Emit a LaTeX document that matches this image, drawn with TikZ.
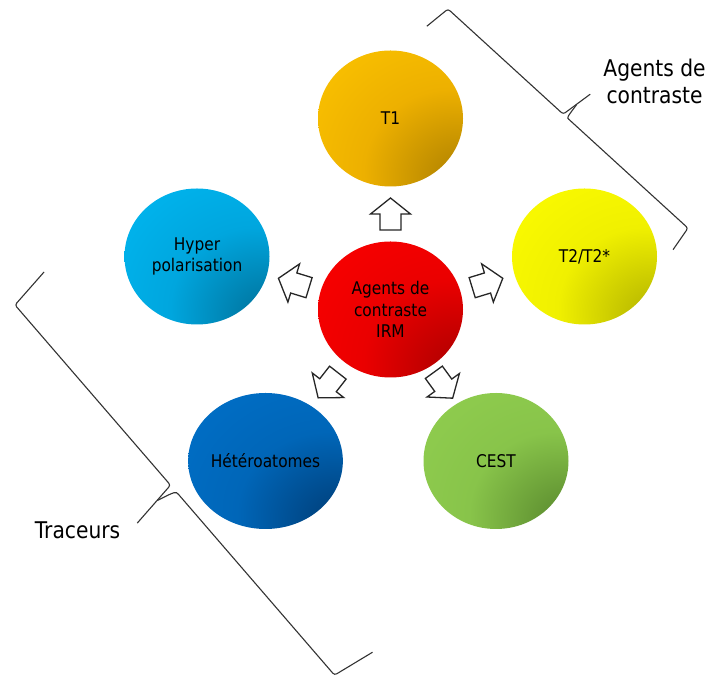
\documentclass[tikz,border=0pt]{standalone}
\usepackage{fontspec}
\setmainfont{DejaVu Sans}[FakeStretch=0.88]
\usetikzlibrary{shapes.geometric,calc}
\colorlet{cdk}{black}\colorlet{cmd}{gray}\colorlet{clt}{white}
\pgfdeclareradialshading[cdk,cmd,clt]{sph}{\pgfpoint{27bp}{-25bp}}{color(0bp)=(cdk);color(4bp)=(cdk);color(30bp)=(cmd);color(62bp)=(clt);color(130bp)=(clt)}
\tikzset{
  ball/.style n args={3}{ellipse, minimum width=145pt, minimum height=136pt, inner sep=0pt,
    align=center, font=\fontsize{17.5}{21.5}\selectfont, text=black,
    /utils/exec={\definecolor{clt}{HTML}{#1}\definecolor{cmd}{HTML}{#2}\definecolor{cdk}{HTML}{#3}},
    shade, shading=sph},
  blockarrow/.style={draw=black!85, line width=1.3pt, fill=white, line join=miter},
  bracket/.style={draw=black!80, line width=1.1pt, rounded corners=2.5pt},
  outerlabel/.style={align=center, font=\fontsize{23}{27}\selectfont, text=black, inner sep=0pt}
}
\begin{document}
\begin{tikzpicture}[x=1pt,y=1pt]
\useasboundingbox (0,0) rectangle (710,677);
\fill[white] (0,0) rectangle (710,677);

\node[ball={FFC800}{EDB000}{B08200}] (t1)   at (390.5,558.5) {T1};
\node[ball={FF0000}{EA0000}{AE0000}] (irm)  at (390.5,367.5) {Agents de\\contraste\\IRM};
\node[ball={FFFF00}{F0F000}{B4B400}] (t2)   at (584.5,420.5) {T2/T2*};
\node[ball={00BBF5}{00A6DE}{00729C}] (hyp)  at (197,420.5) {Hyper\\polarisation};
\node[ball={0072CC}{0066B8}{003E78}] (het)  at (265.5,216) {Hétéroatomes};
\node[ball={92D050}{88C44A}{5A8A2E}] (cest) at (496,216) {CEST};

\foreach \n/\a in {t1/90, t2/17, hyp/163, het/232, cest/306}{
  \draw[blockarrow, shift={($(irm)!0.5!(\n)$)}, rotate=\a]
    (-16,-10.5) -- (0,-10.5) -- (0,-20) -- (16,0) -- (0,20) -- (0,10.5) -- (-16,10.5) -- cycle;
}

\begin{scope}[shift={(448,668)}, rotate=-42.4]
  \draw[bracket] (-4,-27) -- (0,0) -- (156,0) -- (162.5,33);
  \draw[bracket] (328.5,-26) -- (325,0) -- (166,0) .. controls (161,0) .. (159.5,16);
\end{scope}
\begin{scope}[shift={(15,372)}, rotate=-49.2]
  \draw[bracket] (-6,43.6) -- (0,0) -- (238,0) -- (245,-50);
  \draw[bracket] (496.5,43.8) -- (489,0) -- (253,0) .. controls (246,0) .. (241,-20);
\end{scope}

\node[outerlabel] (lab1) at (654.5,595.5) {Agents de\\contraste};
\node[outerlabel] (lab2) at (77.5,147) {Traceurs};
\end{tikzpicture}
\end{document}
